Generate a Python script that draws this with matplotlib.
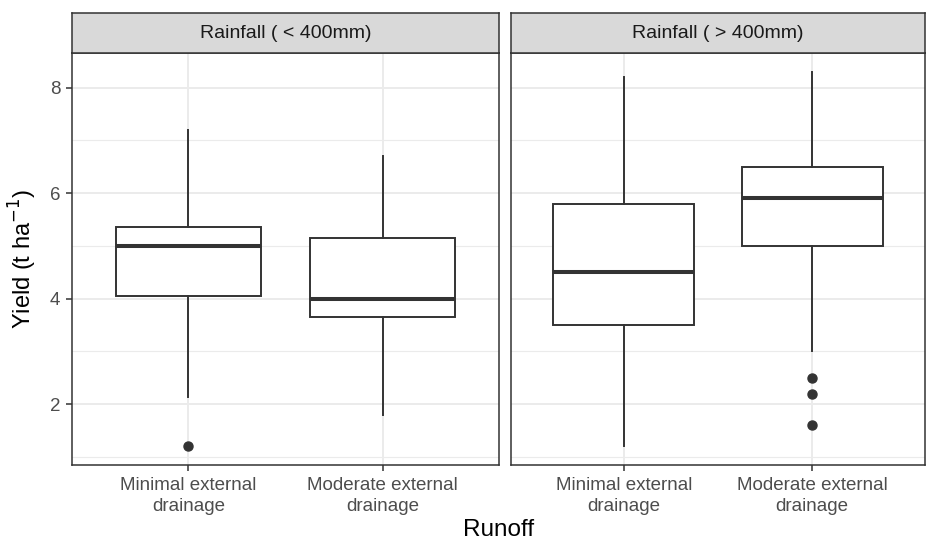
import matplotlib.pyplot as plt
from matplotlib.ticker import FixedLocator

plt.rcParams['font.family'] = ['Liberation Sans', 'DejaVu Sans']

# -------------------------
# data
# -------------------------
facets = ["Rainfall ( < 400mm)", "Rainfall ( > 400mm)"]
runoff = ["Minimal external\ndrainage", "Moderate external\ndrainage"]

# per facet: [minimal, moderate]
whislo = [[2.13, 1.8], [1.2, 3.0]]
q1 = [[4.05, 3.65], [3.5, 5.0]]
med = [[5.0, 4.0], [4.5, 5.9]]
q3 = [[5.35, 5.15], [5.8, 6.5]]
whishi = [[7.2, 6.7], [8.2, 8.3]]
fliers = [[[1.2], []], [[], [2.5, 2.2, 1.6]]]

yticks = [2, 4, 6, 8]
yminor = [1, 3, 5, 7]

# -------------------------
# layout (pixels of a 928x543 figure)
# -------------------------
W, H = 928, 543
fig = plt.figure(figsize=(W / 100, H / 100), dpi=100)

panel_top, panel_bot = 53, 465
strip_top = 13
panels_x = [(72, 499), (511, 925)]

dark = '#333333'
tick_col = '#4D4D4D'

for i, (x0, x1) in enumerate(panels_x):
    ax = fig.add_axes([x0 / W, 1 - panel_bot / H, (x1 - x0) / W, (panel_bot - panel_top) / H])

    stats = []
    for j in range(len(runoff)):
        stats.append(dict(whislo=whislo[i][j], q1=q1[i][j], med=med[i][j],
                          q3=q3[i][j], whishi=whishi[i][j], fliers=fliers[i][j]))

    ax.bxp(stats, positions=[1, 2], widths=0.75, patch_artist=True, showcaps=False,
           boxprops=dict(facecolor='white', edgecolor=dark, linewidth=1.4),
           medianprops=dict(color=dark, linewidth=2.9, solid_capstyle='butt'),
           whiskerprops=dict(color=dark, linewidth=1.4),
           flierprops=dict(marker='o', markerfacecolor=dark, markeredgecolor=dark,
                           markersize=6.5, linestyle='none'))

    ax.set_xlim(0.4, 2.6)
    ax.set_ylim(0.845, 8.655)
    ax.set_xticks([1, 2])
    ax.set_xticklabels(runoff, fontsize=13.5, color=tick_col, linespacing=1.35)
    ax.set_yticks(yticks)
    ax.yaxis.set_minor_locator(FixedLocator(yminor))
    ax.xaxis.set_minor_locator(FixedLocator([]))

    ax.set_axisbelow(True)
    ax.grid(which='major', color='#EBEBEB', linewidth=1.4)
    ax.grid(which='minor', axis='y', color='#EBEBEB', linewidth=0.8)

    ax.tick_params(axis='both', which='major', length=4.3, width=1.1, color=dark,
                   labelsize=13.5, labelcolor=tick_col, pad=4)
    ax.tick_params(axis='y', which='minor', length=0)
    if i > 0:
        ax.tick_params(axis='y', which='major', length=0, labelleft=False)

    for sp in ax.spines.values():
        sp.set_color(dark)
        sp.set_linewidth(1.1)

    # facet strip
    sax = fig.add_axes([x0 / W, 1 - panel_top / H, (x1 - x0) / W, (panel_top - strip_top) / H])
    sax.set_facecolor('#D9D9D9')
    sax.set_xticks([])
    sax.set_yticks([])
    for sp in sax.spines.values():
        sp.set_color(dark)
        sp.set_linewidth(1.1)
    sax.text(0.5, 0.5, facets[i], ha='center', va='center', fontsize=14,
             color='#1A1A1A', transform=sax.transAxes)

fig.text((72 + 925) / 2 / W, 1.5 / H, "Runoff", ha='center', va='bottom', fontsize=17.5)
fig.text(23 / W, 1 - (panel_top + panel_bot) / 2 / H, r"Yield (t ha$^{-1}$)",
         ha='center', va='center', rotation=90, fontsize=17)

fig.savefig('out.png', dpi=100, facecolor='white')
